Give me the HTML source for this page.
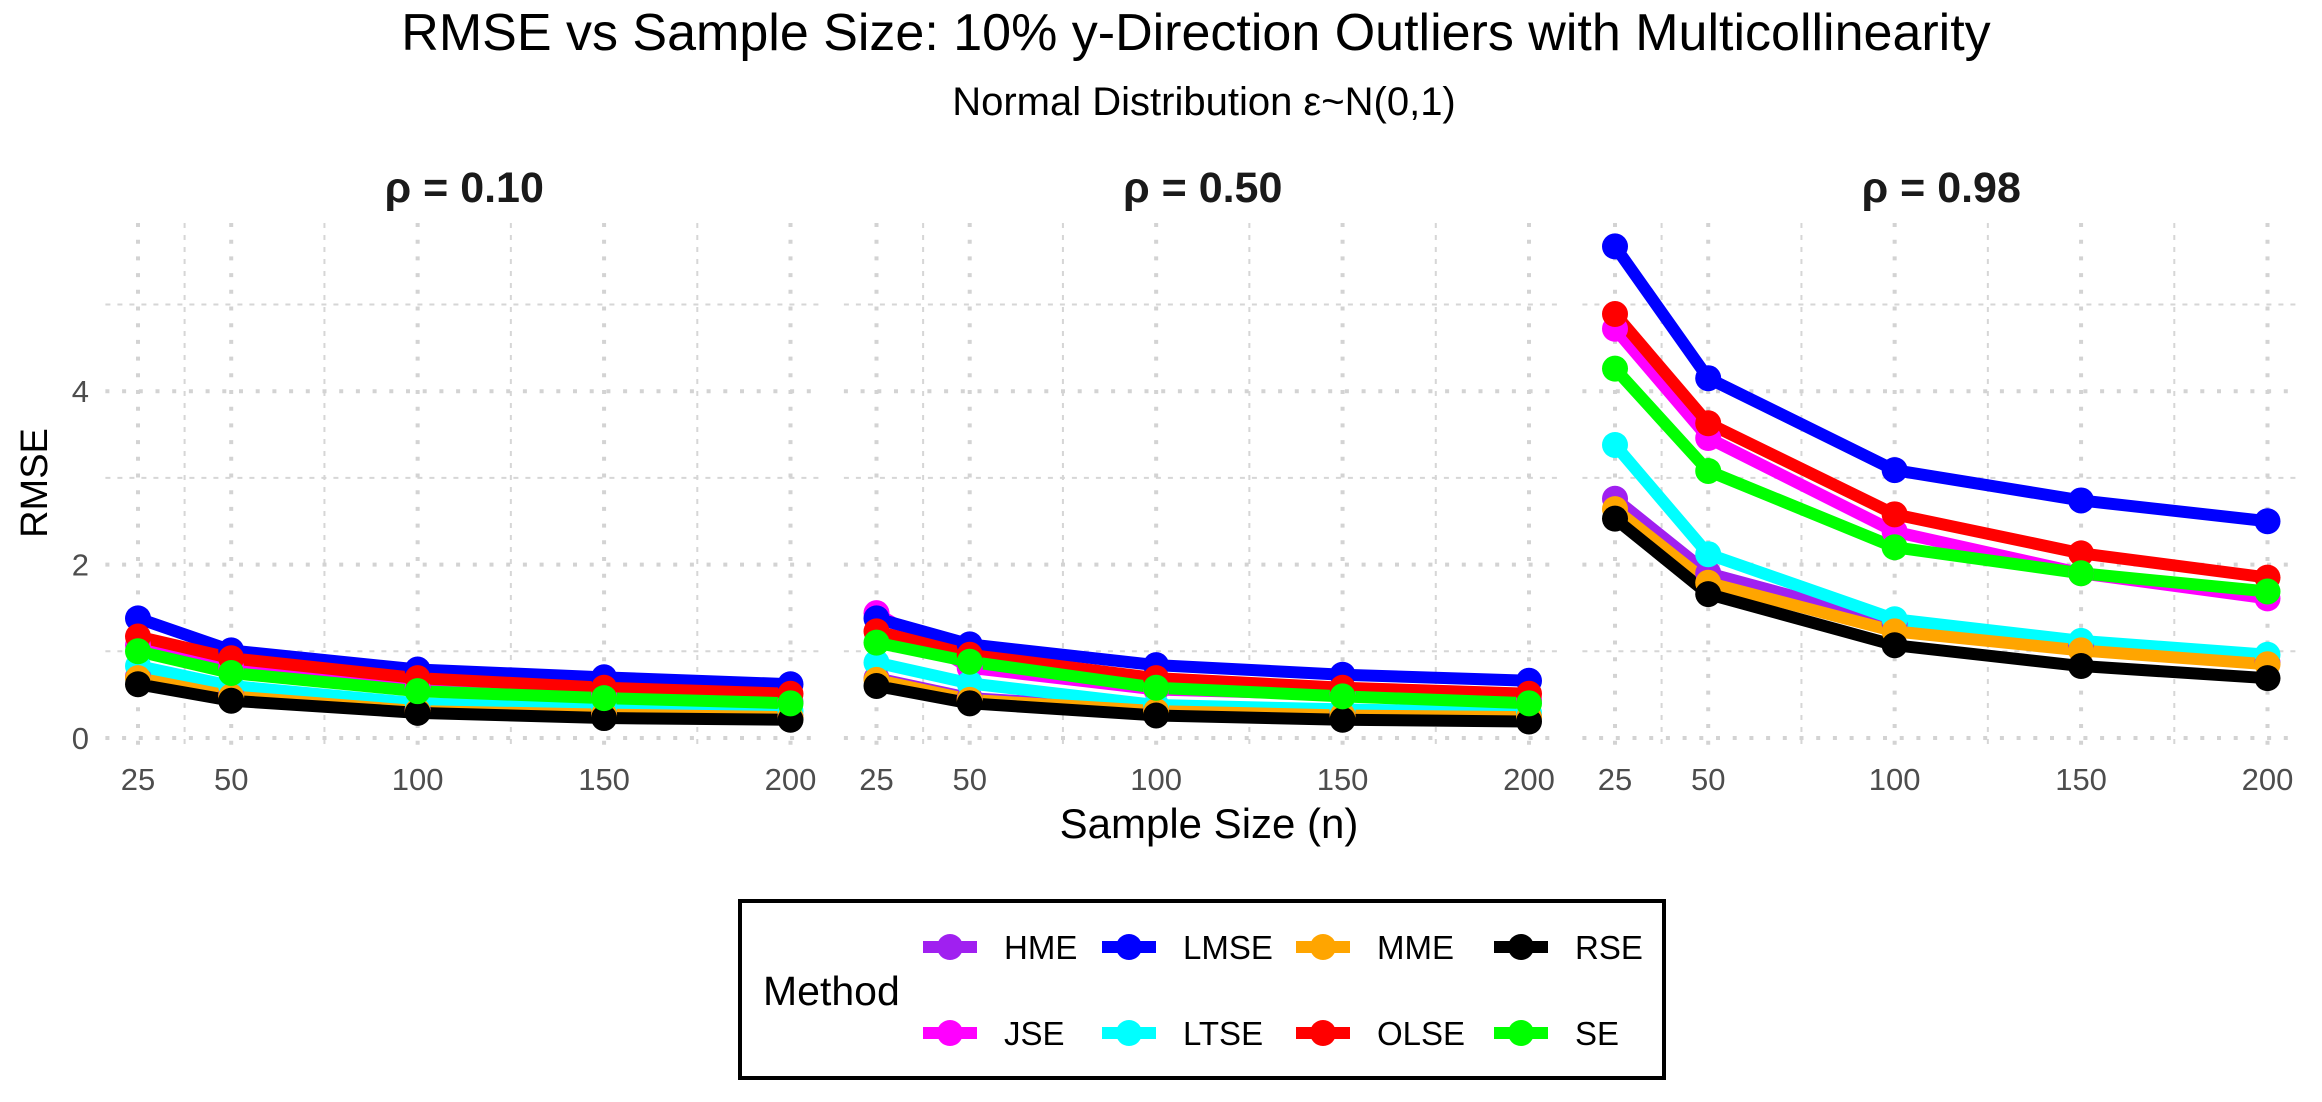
<!DOCTYPE html>
<html><head><meta charset="utf-8">
<style>
html,body{margin:0;padding:0;background:#fff;}
svg{display:block;font-family:"Liberation Sans",Arial,sans-serif;}
</style></head>
<body>
<svg id="chart" width="2322" height="1102" viewBox="0 0 2322 1102" xmlns="http://www.w3.org/2000/svg">
<rect width="2322" height="1102" fill="#fff"/>
<text x="1196" y="50" font-size="52" text-anchor="middle" fill="#000">RMSE vs Sample Size: 10% y-Direction Outliers with Multicollinearity</text>
<text x="1204" y="115" font-size="40" text-anchor="middle" fill="#000">Normal Distribution ε~N(0,1)</text>
<text x="0" y="0" font-size="38" text-anchor="middle" fill="#000" transform="translate(47,483) rotate(-90)">RMSE</text>
<text x="1209" y="838" font-size="42" text-anchor="middle" fill="#000">Sample Size (n)</text>
<g id="panels"></g>
<g id="legend">
<rect x="740" y="901" width="924" height="177" fill="#fff" stroke="#000" stroke-width="4"/>
<text x="763" y="1005" font-size="41" fill="#000">Method</text>
</g>
</svg>
<script>
const methods = ["HME","JSE","LMSE","LTSE","MME","OLSE","RSE","SE"];
const colors = ["#A020F0","#FF00FF","#0000FF","#00FFFF","#FFA500","#FF0000","#000000","#00FF00"];
const sampleSizes = [25,50,100,150,200];
const panelTitles = ["ρ = 0.10","ρ = 0.50","ρ = 0.98"];
const yTicks = [0,2,4];
const yMinor = [1,3,5];
const xMinor = [37.5,75,125,175];
// values per panel, series order = methods
const rho010 = [
 [0.71,0.50,0.33,0.28,0.25],
 [1.07,0.81,0.58,0.49,0.42],
 [1.38,1.01,0.79,0.70,0.62],
 [0.83,0.60,0.40,0.35,0.31],
 [0.69,0.48,0.31,0.27,0.24],
 [1.17,0.92,0.69,0.58,0.51],
 [0.62,0.43,0.29,0.23,0.21],
 [1.00,0.75,0.54,0.46,0.40]
];
const rho050 = [
 [0.69,0.46,0.33,0.28,0.25],
 [1.44,0.81,0.56,0.50,0.44],
 [1.38,1.08,0.84,0.73,0.66],
 [0.87,0.63,0.38,0.33,0.29],
 [0.67,0.44,0.31,0.26,0.24],
 [1.23,0.96,0.69,0.58,0.51],
 [0.60,0.40,0.26,0.21,0.19],
 [1.10,0.88,0.58,0.48,0.40]
];
const rho098 = [
 [2.76,1.90,1.32,1.07,0.87],
 [4.72,3.46,2.38,1.90,1.61],
 [5.67,4.15,3.09,2.74,2.50],
 [3.38,2.12,1.37,1.12,0.96],
 [2.64,1.79,1.23,1.01,0.85],
 [4.89,3.63,2.58,2.13,1.85],
 [2.53,1.66,1.07,0.83,0.69],
 [4.26,3.08,2.20,1.90,1.69]
];
const panelData = [rho010, rho050, rho098];

const NS = "http://www.w3.org/2000/svg";
function mk(tag, attrs, parent){const e=document.createElementNS(NS,tag);for(const k in attrs)e.setAttribute(k,attrs[k]);parent.appendChild(e);return e;}
const X0 = 138, XSPAN = 652.5, POFF = 738.5;
function xScale(p, n){return X0 + p*POFF + (n-25)/175*XSPAN;}
function yScale(v){return 738 - v*86.7;}
const yTop = yScale(5.94), yBot = yScale(-0.08);
const panels = document.getElementById('panels');

panelData.forEach((data, p) => {
  const g = mk('g', {}, panels);
  
  
  const xl = xScale(p, 25) - 32.6, xr = xScale(p, 200) + 32.6;
  yMinor.forEach(v => {
    const l = mk('line', {x1:xl, x2:xr, y1:yScale(v), y2:yScale(v), stroke:'#d6d6d6', 'stroke-width':2, 'stroke-dasharray':'5 7'}, g);
    
    
  });
  xMinor.forEach(n => {
    const l = mk('line', {x1:xScale(p,n), x2:xScale(p,n), y1:yTop, y2:yBot, stroke:'#d6d6d6', 'stroke-width':2, 'stroke-dasharray':'5 7'}, g);
    
    
  });
  yTicks.forEach(v => {
    const l = mk('line', {x1:xl, x2:xr, y1:yScale(v), y2:yScale(v), stroke:'#d3d3d3', 'stroke-width':4, 'stroke-dasharray':'4 12.7'}, g);
    
    
  });
  sampleSizes.forEach(n => {
    const l = mk('line', {x1:xScale(p,n), x2:xScale(p,n), y1:yTop, y2:yBot, stroke:'#d3d3d3', 'stroke-width':4, 'stroke-dasharray':'4 12.7'}, g);
    
    
    const t = mk('text', {x:xScale(p,n), y:790, 'font-size':31, 'text-anchor':'middle', fill:'#4d4d4d'}, g);
    t.textContent = n;
    
    
  });
  if (p === 0) {
    yTicks.forEach(v => {
      const t = mk('text', {x:89, y:yScale(v)+11, 'font-size':31, 'text-anchor':'end', fill:'#4d4d4d'}, g);
      t.textContent = v;
      
      
    });
  }
  const ft = mk('text', {x:(xScale(p,25)+xScale(p,200))/2, y:202, 'font-size':43, 'font-weight':'bold', 'text-anchor':'middle', fill:'#1a1a1a'}, g);
  ft.textContent = panelTitles[p];
  
  
  data.forEach((vals, s) => {
    const pts = vals.map((v,i) => xScale(p, sampleSizes[i]) + ',' + yScale(v)).join(' ');
    const pl = mk('polyline', {points:pts, fill:'none', stroke:colors[s], 'stroke-width':12, 'stroke-linejoin':'round'}, g);
    
    
  });
  data.forEach((vals, s) => {
    vals.forEach((v,i) => {
      const c = mk('circle', {cx:xScale(p, sampleSizes[i]), cy:yScale(v), r:13, fill:colors[s]}, g);
      
      
    });
  });
});

const lg = document.getElementById('legend');
const keyX = [950,1129,1323,1521];
const rowY = [947,1033];
const legendOrder = [["HME","LMSE","MME","RSE"],["JSE","LTSE","OLSE","SE"]];
legendOrder.forEach((row, r) => {
  row.forEach((m, c) => {
    const col = colors[methods.indexOf(m)];
    const kg = mk('g', {}, lg);
    
    
    mk('line', {x1:keyX[c]-27, x2:keyX[c]+27, y1:rowY[r], y2:rowY[r], stroke:col, 'stroke-width':12}, kg);
    mk('circle', {cx:keyX[c], cy:rowY[r], r:13, fill:col}, kg);
    const t = mk('text', {x:keyX[c]+54, y:rowY[r]+12, 'font-size':33, fill:'#000'}, kg);
    t.textContent = m;
  });
});
</script>
</body></html>
